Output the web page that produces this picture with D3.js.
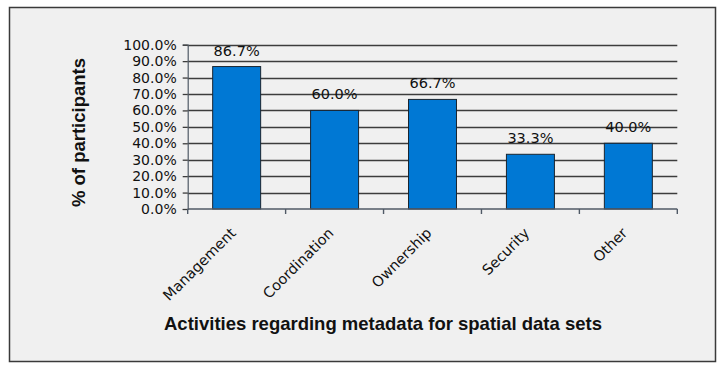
<!DOCTYPE html>
<html>
<head>
<meta charset="utf-8">
<script src="https://cdn.jsdelivr.net/npm/d3@7"></script>
<style>
  html, body { margin: 0; padding: 0; background: #ffffff; }
  svg { display: block; }
</style>
</head>
<body>
<svg id="chart" width="726" height="372"></svg>
<script>
// Share of participants per metadata activity
const categories = ["Management", "Coordination", "Ownership", "Security", "Other"];
const shares = [0.867, 0.600, 0.667, 0.333, 0.400];
const yTicks = [0, 0.1, 0.2, 0.3, 0.4, 0.5, 0.6, 0.7, 0.8, 0.9, 1.0];
const xTitle = "Activities regarding metadata for spatial data sets";
const yTitle = "% of participants";

const svg = d3.select("#chart");

// frame of the chart area
svg.append("rect")
  .attr("x", 9.5).attr("y", 7.5)
  .attr("width", 706).attr("height", 354)
  .attr("fill", "#f0f0f0")
  .attr("stroke", "#3a3a3a")
  .attr("stroke-width", 1.5);

const plot = { left: 187.7, right: 677.3, top: 44.7, bottom: 209 };

const x = d3.scaleBand()
  .domain(categories)
  .range([plot.left, plot.right])
  .paddingInner(0.51)
  .paddingOuter(0.255);

const y = d3.scaleLinear()
  .domain([0, 1])
  .range([plot.bottom, plot.top]);

const fmt = d3.format(".1%");

// horizontal gridlines
svg.append("g")
  .selectAll("line")
  .data(yTicks.slice(1))
  .join("line")
  .attr("x1", plot.left)
  .attr("x2", plot.right)
  .attr("y1", d => Math.round(y(d)) + 0.5)
  .attr("y2", d => Math.round(y(d)) + 0.5)
  .attr("stroke", "#3c3c3c")
  .attr("stroke-width", 1.3);

// bars
svg.append("g")
  .selectAll("rect")
  .data(categories)
  .join("rect")
  .attr("x", d => x(d))
  .attr("y", (d, i) => y(shares[i]))
  .attr("width", x.bandwidth())
  .attr("height", (d, i) => y(0) - y(shares[i]))
  .attr("fill", "#0078d4")
  .attr("stroke", "#1a2530")
  .attr("stroke-width", 1);

// value labels above bars
svg.append("g")
  .selectAll("text")
  .data(categories)
  .join("text")
  .attr("x", d => x(d) + x.bandwidth() / 2)
  .attr("y", (d, i) => y(shares[i]) - 11)
  .attr("text-anchor", "middle")
  .attr("font-family", "'DejaVu Sans', Verdana, sans-serif")
  .attr("font-size", 14.5)
  .attr("fill", "#111")
  .text((d, i) => fmt(shares[i]));

// y axis
const yAxis = svg.append("g")
  .attr("transform", `translate(${plot.left},0)`)
  .call(d3.axisLeft(y).tickValues(yTicks).tickFormat(fmt).tickSize(5).tickPadding(6));
yAxis.select(".domain").attr("stroke", "#505a66").attr("stroke-width", 1.2);
yAxis.selectAll(".tick line").attr("stroke", "#3c3c3c").attr("stroke-width", 1.3);
yAxis.selectAll(".tick text")
  .attr("font-family", "'DejaVu Sans', Verdana, sans-serif")
  .attr("font-size", 14)
  .attr("fill", "#111");

// x axis line with ticks at category boundaries
const xAxis = svg.append("g");
xAxis.append("line")
  .attr("x1", plot.left).attr("x2", plot.right)
  .attr("y1", plot.bottom).attr("y2", plot.bottom)
  .attr("stroke", "#505a66").attr("stroke-width", 1.4);
xAxis.selectAll("line.tick")
  .data(d3.range(categories.length + 1))
  .join("line")
  .attr("class", "tick")
  .attr("x1", i => plot.left + i * x.step())
  .attr("x2", i => plot.left + i * x.step())
  .attr("y1", plot.bottom)
  .attr("y2", plot.bottom + 5)
  .attr("stroke", "#505a66").attr("stroke-width", 1.4);

// rotated category labels
xAxis.selectAll("text")
  .data(categories)
  .join("text")
  .attr("transform", d => `translate(${x(d) + x.bandwidth() / 2},${plot.bottom + 25}) rotate(-45)`)
  .attr("text-anchor", "end")
  .attr("font-family", "'DejaVu Sans', Verdana, sans-serif")
  .attr("font-size", 14.5)
  .attr("fill", "#111")
  .text(d => d);

// axis titles
svg.append("text")
  .attr("x", 383)
  .attr("y", 330)
  .attr("text-anchor", "middle")
  .attr("font-family", "'Liberation Sans', Arial, sans-serif")
  .attr("font-weight", "bold")
  .attr("font-size", 18.5)
  .attr("fill", "#111")
  .text(xTitle);

svg.append("text")
  .attr("transform", "translate(85,132.5) rotate(-90)")
  .attr("text-anchor", "middle")
  .attr("font-family", "'Liberation Sans', Arial, sans-serif")
  .attr("font-weight", "bold")
  .attr("font-size", 18.5)
  .attr("fill", "#111")
  .text(yTitle);
</script>
</body>
</html>
